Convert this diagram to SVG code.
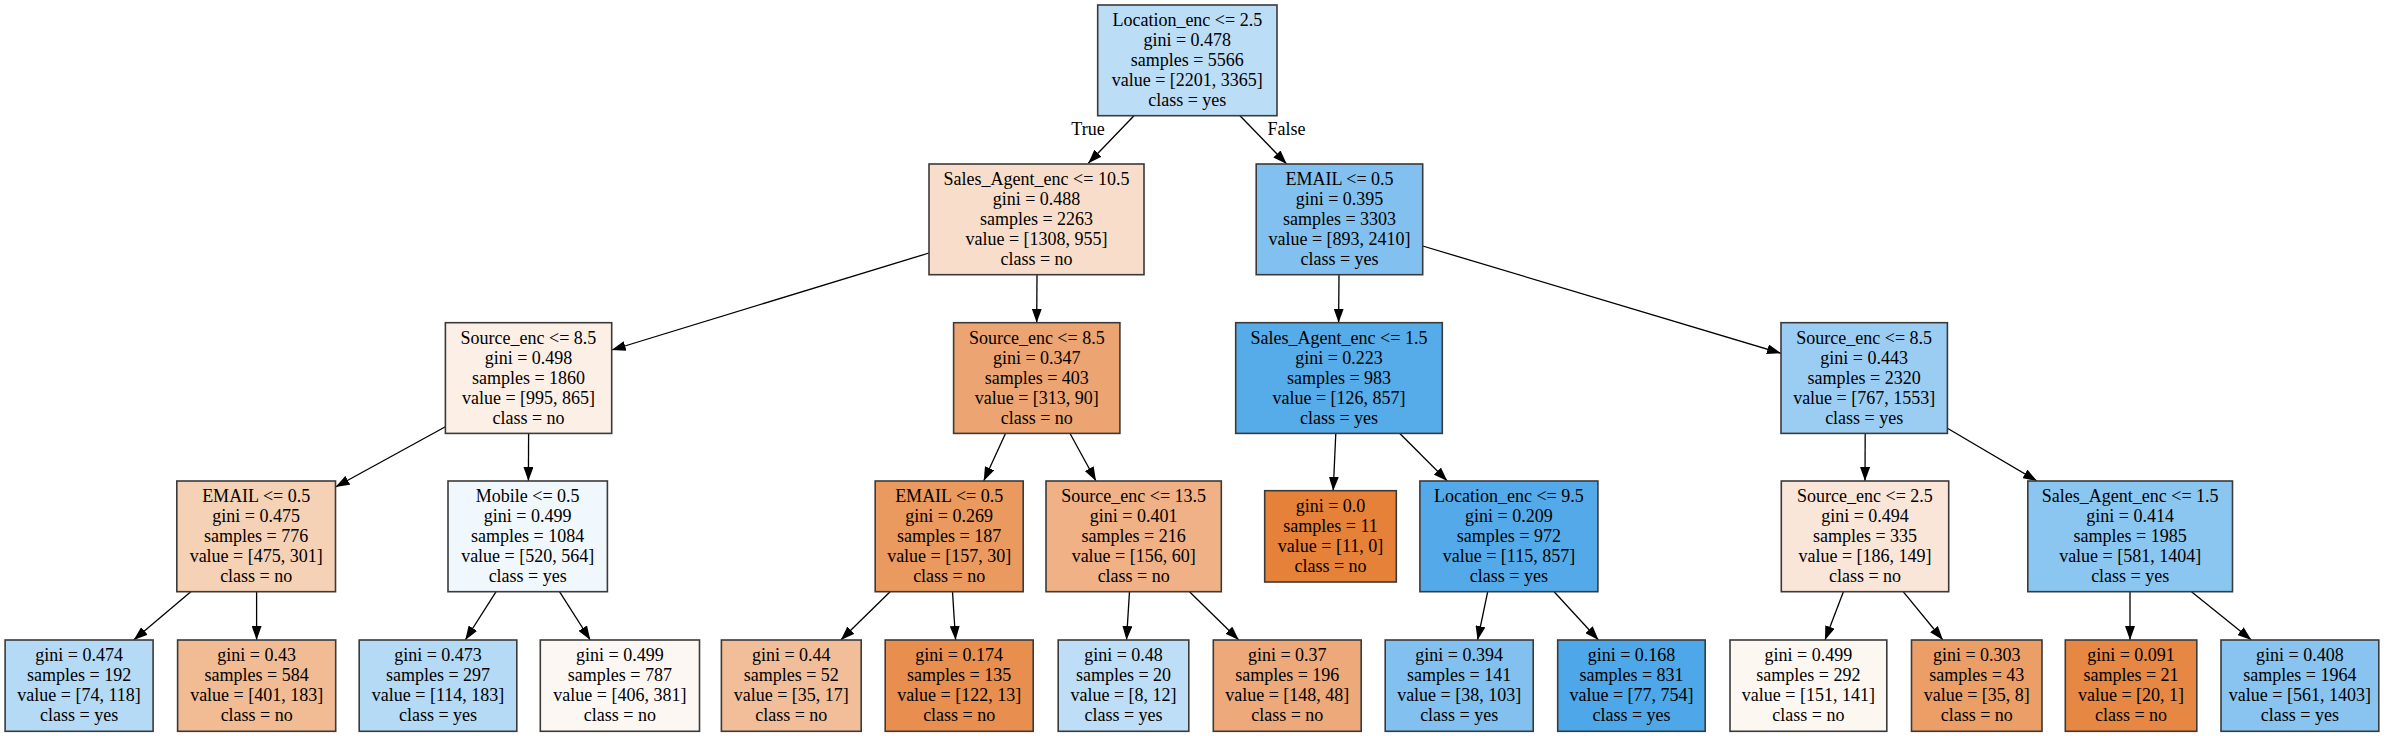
<svg xmlns="http://www.w3.org/2000/svg" width="2393" height="736" viewBox="0 0 2393 736">
<style>
.n rect{stroke:#3a3a3a;stroke-width:1.6}
text{font-family:"Liberation Serif","Times New Roman",serif;font-size:18px;text-anchor:middle;fill:#000}
.e line{stroke:#000;stroke-width:1.3;marker-end:url(#ah)}
</style>
<defs>
<marker id="ah" markerUnits="userSpaceOnUse" markerWidth="14" markerHeight="10" refX="14" refY="5" orient="auto">
<path d="M0,0 L14,5 L0,10 z" fill="#000"/>
</marker>
</defs>
<rect width="2393" height="736" fill="#fff"/>
<g id="edges" class="e">
<line x1="1134" y1="115.7" x2="1088.3" y2="163.3"/>
<line x1="1240" y1="115.7" x2="1286.7" y2="164"/>
<line x1="929" y1="253" x2="611.7" y2="350"/>
<line x1="1037" y1="274.7" x2="1036.7" y2="322.7"/>
<line x1="1339" y1="274.7" x2="1338.6" y2="322.7"/>
<line x1="1422.7" y1="246" x2="1781" y2="353.3"/>
<line x1="445.4" y1="426.7" x2="335.5" y2="487"/>
<line x1="528.6" y1="433.3" x2="528.4" y2="481"/>
<line x1="1005.6" y1="433.3" x2="983.7" y2="481"/>
<line x1="1069.9" y1="433.3" x2="1096" y2="481"/>
<line x1="1335.8" y1="433.3" x2="1333.2" y2="490.7"/>
<line x1="1399.6" y1="433.3" x2="1447.3" y2="481"/>
<line x1="1865.2" y1="433.3" x2="1865" y2="481"/>
<line x1="1947.4" y1="428.3" x2="2037" y2="481"/>
<line x1="190.8" y1="591.7" x2="133.7" y2="640"/>
<line x1="256.6" y1="591.7" x2="256.6" y2="640"/>
<line x1="496.1" y1="591.7" x2="465.3" y2="640"/>
<line x1="559.5" y1="591.7" x2="590.3" y2="640"/>
<line x1="890.1" y1="591.7" x2="840.8" y2="640"/>
<line x1="952.5" y1="591.7" x2="955.6" y2="640"/>
<line x1="1129.5" y1="591.7" x2="1126.5" y2="640"/>
<line x1="1189.5" y1="591.7" x2="1238.8" y2="640"/>
<line x1="1487.7" y1="591.7" x2="1477.6" y2="640"/>
<line x1="1554.1" y1="591.7" x2="1598.5" y2="640"/>
<line x1="1843.4" y1="591.7" x2="1825" y2="640"/>
<line x1="1903.2" y1="591.7" x2="1942.9" y2="640"/>
<line x1="2130" y1="591.7" x2="2130" y2="640"/>
<line x1="2191.5" y1="591.7" x2="2251.4" y2="640"/>
<text x="1088" y="135">True</text>
<text x="1286.5" y="135">False</text>
</g>
<g id="n0" class="n"><rect x="1097.7" y="5" width="179.3" height="110.7" fill="#bbddf6"/>
<text x="1187.3" y="26">Location_enc &lt;= 2.5</text><text x="1187.3" y="46">gini = 0.478</text><text x="1187.3" y="66">samples = 5566</text><text x="1187.3" y="86">value = [2201, 3365]</text><text x="1187.3" y="106">class = yes</text></g>
<g id="n1" class="n"><rect x="929" y="164" width="215" height="110.7" fill="#f8ddca"/>
<text x="1036.5" y="185">Sales_Agent_enc &lt;= 10.5</text><text x="1036.5" y="205">gini = 0.488</text><text x="1036.5" y="225">samples = 2263</text><text x="1036.5" y="245">value = [1308, 955]</text><text x="1036.5" y="265">class = no</text></g>
<g id="n2" class="n"><rect x="1256.2" y="164" width="166.5" height="110.7" fill="#82c1ef"/>
<text x="1339.5" y="185">EMAIL &lt;= 0.5</text><text x="1339.5" y="205">gini = 0.395</text><text x="1339.5" y="225">samples = 3303</text><text x="1339.5" y="245">value = [893, 2410]</text><text x="1339.5" y="265">class = yes</text></g>
<g id="n3" class="n"><rect x="445.4" y="322.7" width="166.3" height="110.7" fill="#fcefe5"/>
<text x="528.5" y="343.7">Source_enc &lt;= 8.5</text><text x="528.5" y="363.7">gini = 0.498</text><text x="528.5" y="383.7">samples = 1860</text><text x="528.5" y="403.7">value = [995, 865]</text><text x="528.5" y="423.7">class = no</text></g>
<g id="n4" class="n"><rect x="953.6" y="322.7" width="166.3" height="110.7" fill="#eca572"/>
<text x="1036.8" y="343.7">Source_enc &lt;= 8.5</text><text x="1036.8" y="363.7">gini = 0.347</text><text x="1036.8" y="383.7">samples = 403</text><text x="1036.8" y="403.7">value = [313, 90]</text><text x="1036.8" y="423.7">class = no</text></g>
<g id="n5" class="n"><rect x="1235.7" y="322.7" width="206.6" height="110.7" fill="#56abe9"/>
<text x="1339" y="343.7">Sales_Agent_enc &lt;= 1.5</text><text x="1339" y="363.7">gini = 0.223</text><text x="1339" y="383.7">samples = 983</text><text x="1339" y="403.7">value = [126, 857]</text><text x="1339" y="423.7">class = yes</text></g>
<g id="n6" class="n"><rect x="1781" y="322.7" width="166.4" height="110.7" fill="#9bcdf2"/>
<text x="1864.2" y="343.7">Source_enc &lt;= 8.5</text><text x="1864.2" y="363.7">gini = 0.443</text><text x="1864.2" y="383.7">samples = 2320</text><text x="1864.2" y="403.7">value = [767, 1553]</text><text x="1864.2" y="423.7">class = yes</text></g>
<g id="n7" class="n"><rect x="176.8" y="481" width="158.7" height="110.7" fill="#f5d1b6"/>
<text x="256.2" y="502">EMAIL &lt;= 0.5</text><text x="256.2" y="522">gini = 0.475</text><text x="256.2" y="542">samples = 776</text><text x="256.2" y="562">value = [475, 301]</text><text x="256.2" y="582">class = no</text></g>
<g id="n8" class="n"><rect x="448" y="481" width="159.4" height="110.7" fill="#f0f7fd"/>
<text x="527.7" y="502">Mobile &lt;= 0.5</text><text x="527.7" y="522">gini = 0.499</text><text x="527.7" y="542">samples = 1084</text><text x="527.7" y="562">value = [520, 564]</text><text x="527.7" y="582">class = yes</text></g>
<g id="n9" class="n"><rect x="875.2" y="481" width="148" height="110.7" fill="#ea995f"/>
<text x="949.2" y="502">EMAIL &lt;= 0.5</text><text x="949.2" y="522">gini = 0.269</text><text x="949.2" y="542">samples = 187</text><text x="949.2" y="562">value = [157, 30]</text><text x="949.2" y="582">class = no</text></g>
<g id="n10" class="n"><rect x="1046" y="481" width="175.3" height="110.7" fill="#efb185"/>
<text x="1133.7" y="502">Source_enc &lt;= 13.5</text><text x="1133.7" y="522">gini = 0.401</text><text x="1133.7" y="542">samples = 216</text><text x="1133.7" y="562">value = [156, 60]</text><text x="1133.7" y="582">class = no</text></g>
<g id="n11" class="n"><rect x="1264.7" y="490.7" width="131.6" height="91.3" fill="#e58139"/>
<text x="1330.5" y="512">gini = 0.0</text><text x="1330.5" y="532">samples = 11</text><text x="1330.5" y="552">value = [11, 0]</text><text x="1330.5" y="572">class = no</text></g>
<g id="n12" class="n"><rect x="1419.9" y="481" width="178" height="110.7" fill="#54aae8"/>
<text x="1508.9" y="502">Location_enc &lt;= 9.5</text><text x="1508.9" y="522">gini = 0.209</text><text x="1508.9" y="542">samples = 972</text><text x="1508.9" y="562">value = [115, 857]</text><text x="1508.9" y="582">class = yes</text></g>
<g id="n13" class="n"><rect x="1781.3" y="481" width="167.4" height="110.7" fill="#fae6d8"/>
<text x="1865" y="502">Source_enc &lt;= 2.5</text><text x="1865" y="522">gini = 0.494</text><text x="1865" y="542">samples = 335</text><text x="1865" y="562">value = [186, 149]</text><text x="1865" y="582">class = no</text></g>
<g id="n14" class="n"><rect x="2027.8" y="481" width="204.7" height="110.7" fill="#8bc6f0"/>
<text x="2130.2" y="502">Sales_Agent_enc &lt;= 1.5</text><text x="2130.2" y="522">gini = 0.414</text><text x="2130.2" y="542">samples = 1985</text><text x="2130.2" y="562">value = [581, 1404]</text><text x="2130.2" y="582">class = yes</text></g>
<g id="n15" class="n"><rect x="5.1" y="640" width="148" height="91.3" fill="#b5daf5"/>
<text x="79.1" y="661.3">gini = 0.474</text><text x="79.1" y="681.3">samples = 192</text><text x="79.1" y="701.3">value = [74, 118]</text><text x="79.1" y="721.3">class = yes</text></g>
<g id="n16" class="n"><rect x="177.6" y="640" width="158.1" height="91.3" fill="#f1bb93"/>
<text x="256.7" y="661.3">gini = 0.43</text><text x="256.7" y="681.3">samples = 584</text><text x="256.7" y="701.3">value = [401, 183]</text><text x="256.7" y="721.3">class = no</text></g>
<g id="n17" class="n"><rect x="359.2" y="640" width="157.6" height="91.3" fill="#b4daf5"/>
<text x="438" y="661.3">gini = 0.473</text><text x="438" y="681.3">samples = 297</text><text x="438" y="701.3">value = [114, 183]</text><text x="438" y="721.3">class = yes</text></g>
<g id="n18" class="n"><rect x="540.3" y="640" width="159.2" height="91.3" fill="#fdf7f3"/>
<text x="619.9" y="661.3">gini = 0.499</text><text x="619.9" y="681.3">samples = 787</text><text x="619.9" y="701.3">value = [406, 381]</text><text x="619.9" y="721.3">class = no</text></g>
<g id="n19" class="n"><rect x="721.4" y="640" width="139.8" height="91.3" fill="#f2be99"/>
<text x="791.3" y="661.3">gini = 0.44</text><text x="791.3" y="681.3">samples = 52</text><text x="791.3" y="701.3">value = [35, 17]</text><text x="791.3" y="721.3">class = no</text></g>
<g id="n20" class="n"><rect x="885.2" y="640" width="148" height="91.3" fill="#e88e4e"/>
<text x="959.2" y="661.3">gini = 0.174</text><text x="959.2" y="681.3">samples = 135</text><text x="959.2" y="701.3">value = [122, 13]</text><text x="959.2" y="721.3">class = no</text></g>
<g id="n21" class="n"><rect x="1058.2" y="640" width="130.6" height="91.3" fill="#bddef6"/>
<text x="1123.5" y="661.3">gini = 0.48</text><text x="1123.5" y="681.3">samples = 20</text><text x="1123.5" y="701.3">value = [8, 12]</text><text x="1123.5" y="721.3">class = yes</text></g>
<g id="n22" class="n"><rect x="1213.3" y="640" width="147.9" height="91.3" fill="#eda979"/>
<text x="1287.3" y="661.3">gini = 0.37</text><text x="1287.3" y="681.3">samples = 196</text><text x="1287.3" y="701.3">value = [148, 48]</text><text x="1287.3" y="721.3">class = no</text></g>
<g id="n23" class="n"><rect x="1385.2" y="640" width="148" height="91.3" fill="#82c1ef"/>
<text x="1459.2" y="661.3">gini = 0.394</text><text x="1459.2" y="681.3">samples = 141</text><text x="1459.2" y="701.3">value = [38, 103]</text><text x="1459.2" y="721.3">class = yes</text></g>
<g id="n24" class="n"><rect x="1557.7" y="640" width="147.5" height="91.3" fill="#4da7e8"/>
<text x="1631.5" y="661.3">gini = 0.168</text><text x="1631.5" y="681.3">samples = 831</text><text x="1631.5" y="701.3">value = [77, 754]</text><text x="1631.5" y="721.3">class = yes</text></g>
<g id="n25" class="n"><rect x="1730" y="640" width="156.8" height="91.3" fill="#fdf7f2"/>
<text x="1808.4" y="661.3">gini = 0.499</text><text x="1808.4" y="681.3">samples = 292</text><text x="1808.4" y="701.3">value = [151, 141]</text><text x="1808.4" y="721.3">class = no</text></g>
<g id="n26" class="n"><rect x="1911.5" y="640" width="130.5" height="91.3" fill="#eb9e66"/>
<text x="1976.8" y="661.3">gini = 0.303</text><text x="1976.8" y="681.3">samples = 43</text><text x="1976.8" y="701.3">value = [35, 8]</text><text x="1976.8" y="721.3">class = no</text></g>
<g id="n27" class="n"><rect x="2065.3" y="640" width="131.5" height="91.3" fill="#e68743"/>
<text x="2131" y="661.3">gini = 0.091</text><text x="2131" y="681.3">samples = 21</text><text x="2131" y="701.3">value = [20, 1]</text><text x="2131" y="721.3">class = no</text></g>
<g id="n28" class="n"><rect x="2221" y="640" width="157.8" height="91.3" fill="#88c4ef"/>
<text x="2299.9" y="661.3">gini = 0.408</text><text x="2299.9" y="681.3">samples = 1964</text><text x="2299.9" y="701.3">value = [561, 1403]</text><text x="2299.9" y="721.3">class = yes</text></g>
</svg>
